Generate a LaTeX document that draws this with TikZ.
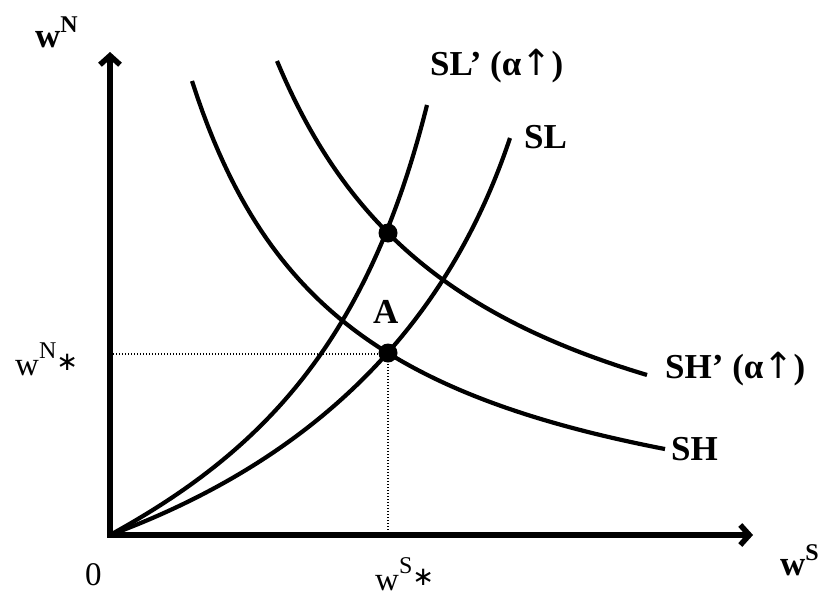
\documentclass[tikz,border=0pt]{standalone}
\usepackage{fontspec}
\setmainfont{Liberation Serif}
\newfontfamily\symfont{DejaVu Sans}
\usetikzlibrary{arrows.meta}
\newcommand{\supx}[2]{\raisebox{#1}{\fontsize{24}{24}\selectfont #2}}
\newcommand{\uparr}{{\fontsize{36}{36}\selectfont\symfont\mdseries ↑}}
\newcommand{\astx}{\raisebox{5pt}{\fontsize{26}{26}\selectfont\symfont ∗}}
\tikzset{
  axisline/.style={line width=5.5pt, line join=miter,
    {Straight Barb[length=9pt,width=20pt]}-{Straight Barb[length=9pt,width=20pt]}},
  curve/.style={line width=4.2pt},
  guide/.style={line width=1.2pt, dash pattern=on 1.3pt off 1.7pt},
  dot/.style={circle, fill=black, inner sep=0pt, minimum size=19pt},
  boldlab/.style={font=\fontsize{35}{40}\selectfont\bfseries, inner sep=0pt, anchor=base west},
  reglab/.style={font=\fontsize{33}{38}\selectfont, inner sep=0pt, anchor=base west}
}
\begin{document}
\begin{tikzpicture}[x=1pt,y=-1pt]
\useasboundingbox (0,0) rectangle (827,597);
\coordinate (O) at (110,535);
\coordinate (ytip) at (110,52);
\coordinate (xtip) at (753,535);
\coordinate (hg) at (110,354);
\coordinate (vg) at (388,535);
\coordinate (SLpend) at (427,105);
\coordinate (SLend) at (510,138);
% guides
\draw[guide] (hg) -- (388,354) -- (vg);
% axes
\draw[axisline] (ytip) -- (O) -- (xtip);
% SL' and SL
\draw[curve] (O) .. controls (260,452.5) and (367,345) .. (SLpend);
\draw[curve] (O) .. controls (290,468.4) and (440,348) .. (SLend);
% SH and SH'
\draw[curve] plot[domain=82:555, samples=90] ({110+\x},{535-(772.05/(\x+75.4)*100-36.5)});
\draw[curve] plot[domain=167:537, samples=90] ({110+\x},{535-(984.43/(\x+35.6)*100-11.9)});
% dots
\node[dot] (E1) at (388,233) {};
\node[dot] (E0) at (388,353) {};
% labels
\node[boldlab] (lwN) at (35,47) {w\supx{15pt}{N}};
\node[reglab] (lwNs) at (15,375) {w\supx{17pt}{N}\astx};
\node[reglab] (l0) at (85,585) {0};
\node[reglab] (lwSs) at (375,590) {w\supx{17pt}{S}\astx};
\node[boldlab] (lwS) at (780,575) {w\supx{15pt}{S}};
\node[boldlab] (lSLp) at (430,75) {SL’ (α\uparr)};
\node[boldlab] (lSL) at (524,148) {SL};
\node[boldlab] (lA) at (373,323) {A};
\node[boldlab] (lSHp) at (665,378) {SH’ (α\uparr)};
\node[boldlab] (lSH) at (671,460) {SH};
\end{tikzpicture}
\end{document}
